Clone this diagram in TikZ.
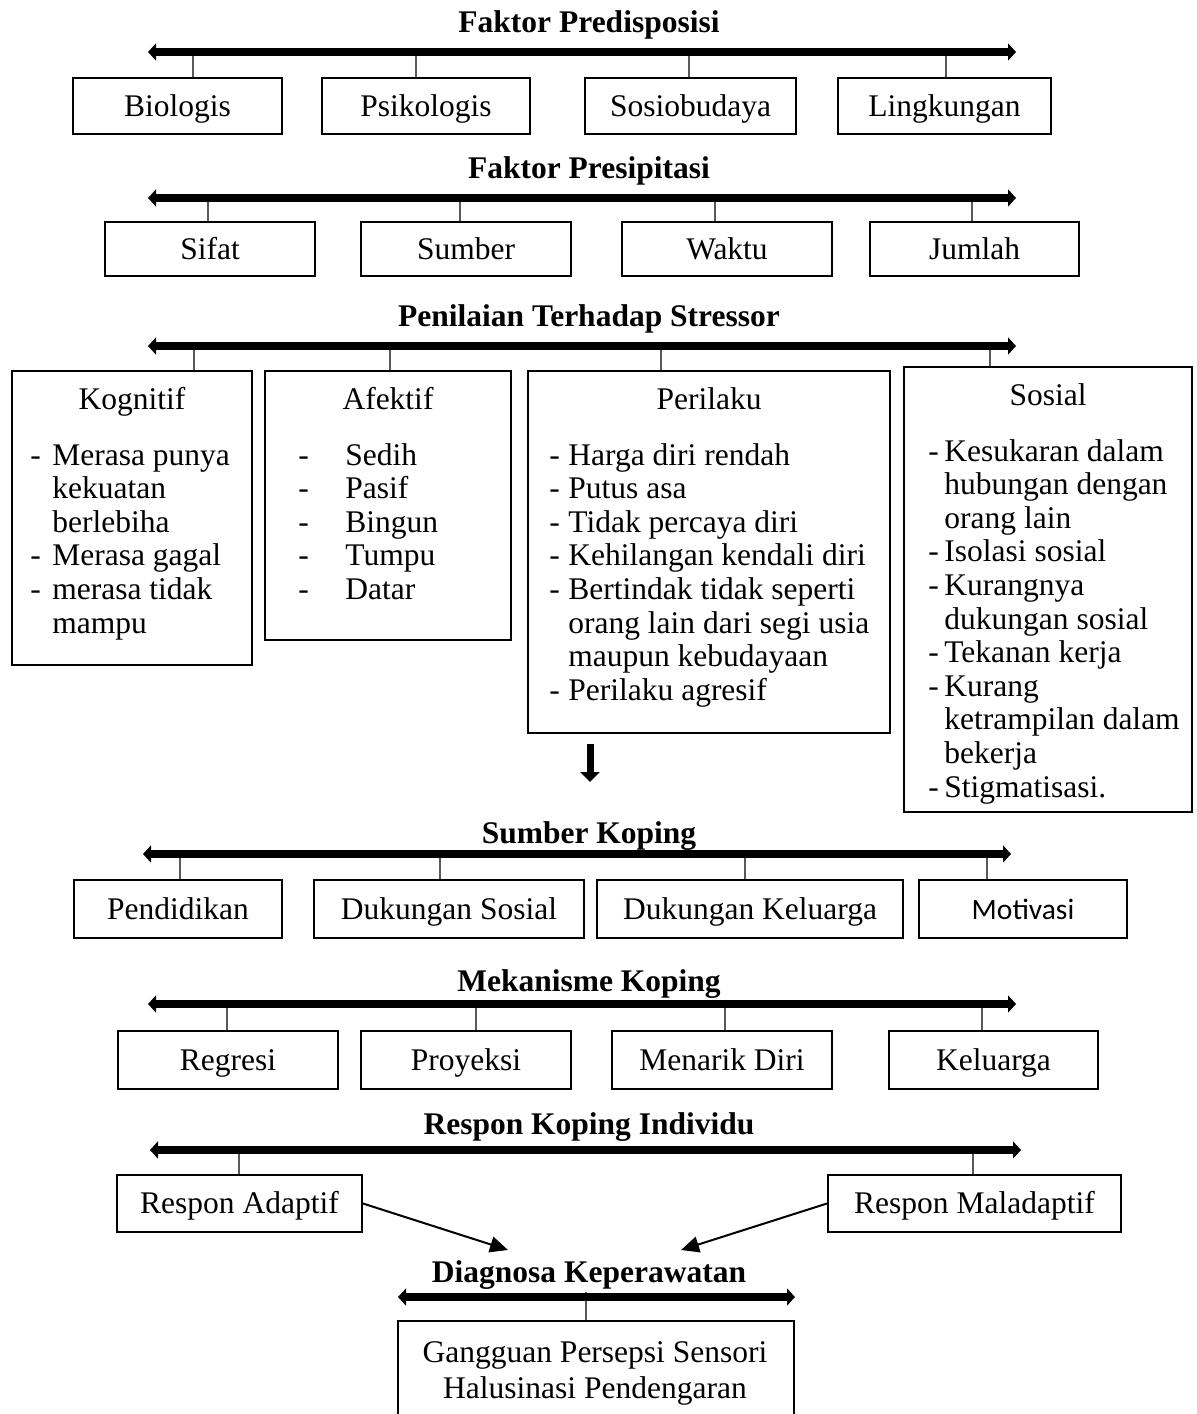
\documentclass[tikz,border=0pt]{standalone}
\usepackage{fontspec}
\setmainfont{Liberation Serif}
\newfontfamily\calibri{Carlito}
\usetikzlibrary{arrows.meta}

% body text size and line pitch used throughout the chart
\newcommand\txt{\fontsize{15.75pt}{16.8pt}\selectfont}
% bulleted list: a dash column of fixed width, then the item text
\newcommand\dashlist[2]{\begin{tabular}[t]{@{}p{#1}@{}l@{}}#2\end{tabular}}

\begin{document}
\begin{tikzpicture}[x=0.5pt,y=-0.5pt,
  every node/.style={font=\txt},
  box/.style={draw, line width=1pt, inner sep=0pt, text height=12pt, text depth=2pt},
  head/.style={font=\txt\bfseries, anchor=base, inner sep=0pt},
  boxtitle/.style={anchor=base, inner sep=0pt},
  list/.style={anchor=base west, inner sep=0pt},
  bar/.style={line width=4pt, {Triangle[length=4pt,width=8.5pt]}-{Triangle[length=4pt,width=8.5pt]}},
  tick/.style={line width=0.6pt, black!65},
  ptr/.style={line width=1pt, -{Triangle[length=9pt,width=8pt]}},
  down/.style={line width=3.5pt, -{Triangle[length=5pt,width=9.5pt]}},
]
\clip (0,0) rectangle (1196,1414);

% rectangle node given by its corners (px): name, x1, y1, x2, y2, text
\newcommand\rbox[6]{%
  \pgfmathsetmacro\bw{(#4-#2)*0.5}\pgfmathsetmacro\bh{(#5-#3)*0.5}%
  \node[box, minimum width=\bw pt, minimum height=\bh pt] (#1) at ({(#2+#4)/2},{(#3+#5)/2}) {#6};}

% ---------------- Faktor Predisposisi ----------------
\node[head] (h1) at (589,32) {Faktor Predisposisi};
\coordinate (a1l) at (148,52); \coordinate (a1r) at (1016,52);
\rbox{b11}{73}{78}{282}{134}{Biologis}
\rbox{b12}{322}{78}{530}{134}{Psikologis}
\rbox{b13}{585}{78}{796}{134}{Sosiobudaya}
\rbox{b14}{838}{78}{1051}{134}{Lingkungan}
\coordinate (t11) at (193,52); \coordinate (t12) at (416,52);
\coordinate (t13) at (689,52); \coordinate (t14) at (946,52);
\foreach \t/\b in {t11/b11,t12/b12,t13/b13,t14/b14} \draw[tick] (\t) -- (\t |- \b.north);
\draw[bar] (a1l) -- (a1r);

% ---------------- Faktor Presipitasi ----------------
\node[head] (h2) at (589,178) {Faktor Presipitasi};
\coordinate (a2l) at (148,198); \coordinate (a2r) at (1016,198);
\rbox{b21}{105}{222}{315}{276}{Sifat}
\rbox{b22}{361}{222}{571}{276}{Sumber}
\rbox{b23}{622}{222}{832}{276}{Waktu}
\rbox{b24}{870}{222}{1079}{276}{Jumlah}
\coordinate (t21) at (208,198); \coordinate (t22) at (460,198);
\coordinate (t23) at (715,198); \coordinate (t24) at (972,198);
\foreach \t/\b in {t21/b21,t22/b22,t23/b23,t24/b24} \draw[tick] (\t) -- (\t |- \b.north);
\draw[bar] (a2l) -- (a2r);

% ---------------- Penilaian Terhadap Stressor ----------------
\node[head] (h3) at (589,326) {Penilaian Terhadap Stressor};
\coordinate (a3l) at (148,346); \coordinate (a3r) at (1016,346);
\rbox{b31}{12}{371}{252}{665}{}
\rbox{b32}{265}{371}{511}{640}{}
\rbox{b33}{528}{371}{890}{733}{}
\rbox{b34}{904}{367}{1192}{812}{}
\coordinate (t31) at (194,346); \coordinate (t32) at (390,346);
\coordinate (t33) at (661,346); \coordinate (t34) at (990,346);
\foreach \t/\b in {t31/b31,t32/b32,t33/b33,t34/b34} \draw[tick] (\t) -- (\t |- \b.north);
\draw[bar] (a3l) -- (a3r);

\node[boxtitle] (k0) at (132,409) {Kognitif};
\node[list] (k1) at (30,465) {\dashlist{11pt}{%
  -&Merasa punya\\ &kekuatan\\ &berlebiha\\
  -&Merasa gagal\\
  -&merasa tidak\\ &mampu}};

\node[boxtitle] (f0) at (388,409) {Afektif};
\node[list] (f1) at (298,465) {\dashlist{23.5pt}{%
  -&Sedih\\ -&Pasif\\ -&Bingun\\ -&Tumpu\\ -&Datar}};

\node[boxtitle] (p0) at (709,409) {Perilaku};
\node[list] (p1) at (549,465) {\dashlist{9.5pt}{%
  -&Harga diri rendah\\
  -&Putus asa\\
  -&Tidak percaya diri\\
  -&Kehilangan kendali diri\\
  -&Bertindak tidak seperti\\ &orang lain dari segi usia\\ &maupun kebudayaan\\
  -&Perilaku agresif}};

\node[boxtitle] (s0) at (1048,405) {Sosial};
\node[list] (s1) at (928,461) {\dashlist{8pt}{%
  -&Kesukaran dalam\\ &hubungan dengan\\ &orang lain\\
  -&Isolasi sosial\\
  -&Kurangnya\\ &dukungan sosial\\
  -&Tekanan kerja\\
  -&Kurang\\ &ketrampilan dalam\\ &bekerja\\
  -&Stigmatisasi.}};

% downward arrow under the appraisal boxes
\coordinate (d1) at (590,744); \coordinate (d2) at (590,782);
\draw[down] (d1) -- (d2);

% ---------------- Sumber Koping ----------------
\node[head] (h4) at (589,843) {Sumber Koping};
\coordinate (a4l) at (143,854); \coordinate (a4r) at (1011,854);
\rbox{b41}{74}{880}{282}{938}{Pendidikan}
\rbox{b42}{314}{880}{584}{938}{Dukungan Sosial}
\rbox{b43}{597}{880}{903}{938}{Dukungan Keluarga}
\rbox{b44}{919}{880}{1127}{938}{{\calibri\fontsize{14.75pt}{16pt}\selectfont Motivasi}}
\coordinate (t41) at (180,854); \coordinate (t42) at (440,854);
\coordinate (t43) at (745,854); \coordinate (t44) at (987,854);
\foreach \t/\b in {t41/b41,t42/b42,t43/b43,t44/b44} \draw[tick] (\t) -- (\t |- \b.north);
\draw[bar] (a4l) -- (a4r);

% ---------------- Mekanisme Koping ----------------
\node[head] (h5) at (589,991) {Mekanisme Koping};
\coordinate (a5l) at (148,1004); \coordinate (a5r) at (1016,1004);
\rbox{b51}{118}{1031}{338}{1089}{Regresi}
\rbox{b52}{361}{1031}{571}{1089}{Proyeksi}
\rbox{b53}{612}{1031}{832}{1089}{Menarik Diri}
\rbox{b54}{889}{1031}{1098}{1089}{Keluarga}
\coordinate (t51) at (227,1004); \coordinate (t52) at (476,1004);
\coordinate (t53) at (725,1004); \coordinate (t54) at (982,1004);
\foreach \t/\b in {t51/b51,t52/b52,t53/b53,t54/b54} \draw[tick] (\t) -- (\t |- \b.north);
\draw[bar] (a5l) -- (a5r);

% ---------------- Respon Koping Individu ----------------
\node[head] (h6) at (589,1134) {Respon Koping Individu};
\coordinate (a6l) at (150,1150); \coordinate (a6r) at (1021,1150);
\rbox{b61}{117}{1175}{362}{1232}{Respon Adaptif}
\rbox{b62}{828}{1175}{1121}{1232}{Respon Maladaptif}
\coordinate (t61) at (239,1150); \coordinate (t62) at (973,1150);
\foreach \t/\b in {t61/b61,t62/b62} \draw[tick] (\t) -- (\t |- \b.north);
\draw[bar] (a6l) -- (a6r);

\coordinate (e1) at (508,1250); \coordinate (e2) at (681,1250);
\draw[ptr] (b61.east) -- (e1);
\draw[ptr] (b62.west) -- (e2);

% ---------------- Diagnosa Keperawatan ----------------
\node[head] (h7) at (589,1282) {Diagnosa Keperawatan};
\coordinate (a7l) at (398,1297); \coordinate (a7r) at (795,1297);
\rbox{b71}{398}{1321}{794}{1440}{}
\coordinate (t71) at (586,1292);
\draw[tick] (t71) -- (t71 |- b71.north);
\draw[bar] (a7l) -- (a7r);
\node[anchor=base, inner sep=0pt, font=\fontsize{15.75pt}{18pt}\selectfont] (g1) at (595,1362)
  {\begin{tabular}[t]{@{}c@{}}Gangguan Persepsi Sensori\\ Halusinasi Pendengaran\end{tabular}};
\end{tikzpicture}
\end{document}
